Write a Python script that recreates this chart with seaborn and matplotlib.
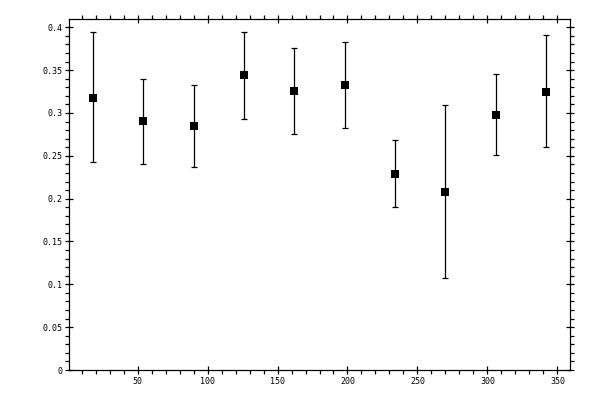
import numpy as np
import pandas as pd
import seaborn as sns
import matplotlib
matplotlib.use('Agg')
import matplotlib.pyplot as plt
from matplotlib.ticker import MultipleLocator, FuncFormatter

# values
angle = [18, 54, 90, 126, 162, 198, 234, 270, 306, 342]
value = [0.318, 0.291, 0.285, 0.344, 0.326, 0.333, 0.229, 0.208, 0.298, 0.325]
err_low = [0.075, 0.050, 0.048, 0.051, 0.050, 0.051, 0.039, 0.101, 0.047, 0.065]
err_high = [0.076, 0.049, 0.048, 0.050, 0.050, 0.050, 0.039, 0.101, 0.047, 0.066]

data = pd.DataFrame({'angle': angle, 'value': value})

sns.set_style('ticks')
plt.rcParams['font.family'] = ['DejaVu Sans Mono']

fig = plt.figure(figsize=(6, 4), dpi=100)
ax = fig.add_axes([0.115, 0.075, 0.835, 0.8775])

# error bars first, then the square markers on top
ax.errorbar(data['angle'], data['value'], yerr=[err_low, err_high],
            fmt='none', ecolor='black', elinewidth=0.9, capsize=2.2, capthick=0.9)
sns.scatterplot(data=data, x='angle', y='value', marker='s', s=36,
                color='black', edgecolor='black', linewidth=0, ax=ax, zorder=3)

ax.set_xlim(1, 359)
ax.set_ylim(0, 0.4097)
ax.set_xlabel('')
ax.set_ylabel('')

ax.xaxis.set_major_locator(MultipleLocator(50))
ax.xaxis.set_minor_locator(MultipleLocator(10))
ax.yaxis.set_major_locator(MultipleLocator(0.05))
ax.yaxis.set_minor_locator(MultipleLocator(0.01))
ax.xaxis.set_major_formatter(FuncFormatter(lambda v, p: '' if v <= 0 else '%g' % v))
ax.yaxis.set_major_formatter(FuncFormatter(lambda v, p: '%g' % round(v, 2)))

for side in ['top', 'bottom', 'left', 'right']:
    ax.spines[side].set_visible(True)
    ax.spines[side].set_linewidth(0.9)
    ax.spines[side].set_color('black')

ax.tick_params(which='major', direction='inout', length=6, width=0.9,
               top=True, right=True, labelsize=6, pad=2, colors='black')
ax.tick_params(which='minor', direction='out', length=3, width=0.9,
               top=True, right=True, colors='black')

fig.savefig('out.png', dpi=100)
